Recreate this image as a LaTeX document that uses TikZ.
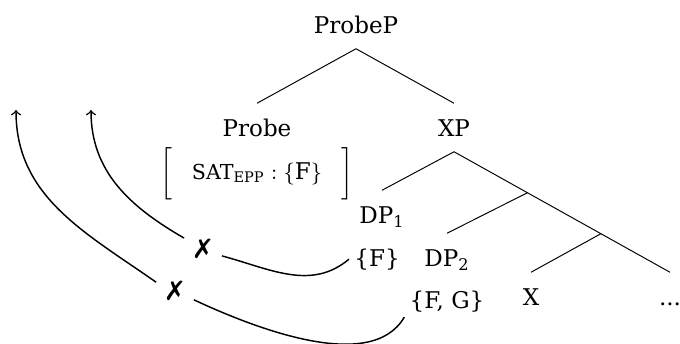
\documentclass[tikz,border=0pt]{standalone}
\usepackage{amsmath}
\usepackage{fontspec}
\setmainfont{DejaVu Serif}
\newfontfamily\marksfont{DejaVu Sans}
\usetikzlibrary{arrows}
\usetikzlibrary{calc}
\newcommand{\smcap}[1]{{\fontsize{8.5}{9}\selectfont #1}}
\newcommand{\subcap}[1]{{\fontsize{6}{6}\selectfont #1}}
\tikzset{
  tree_node/.style = {anchor=base, inner sep=5pt, text height=1.6ex,
    text depth=.25ex},% categories of the tree
  feat_node/.style = {anchor=base, inner sep=2pt},% feature bundles
  cross_node/.style = {inner sep=3pt, font=\marksfont\fontsize{11}{11}\selectfont},% failed step
  tree_line/.style = {line width=0.4pt},
  move_line/.style = {line width=0.6pt}% upward paths
}

\begin{document}
\begin{tikzpicture}[x=0.0145cm, y=-0.0145cm, font=\fontsize{9.5}{11}\selectfont]
  \useasboundingbox (0,0) rectangle (680,343);
  % the tree
  \node [tree_node] (probep) at (356,33) {ProbeP};
  \node [tree_node] (probe) at (257,136) {Probe};
  \node [tree_node] (xp) at (454,136) {XP};
  \node [tree_node] (dpone) at (382,223) {DP$_{\text{1}}$};
  \node [tree_node] (dptwo) at (447,266) {DP$_{\text{2}}$};
  \node [tree_node] (x) at (531,305) {X};
  \node [tree_node] (dots) at (670,305) {...};
  \coordinate (split_a) at ($(xp.south)!0.34!(dots.north)$);
  \coordinate (split_b) at ($(xp.south)!0.68!(dots.north)$);
  \draw [tree_line] (probep.south) -- (probe.north);
  \draw [tree_line] (probep.south) -- (xp.north);
  \draw [tree_line] (xp.south) -- (dpone.north);
  \draw [tree_line] (xp.south) -- (dots.north);
  \draw [tree_line] (split_a) -- (dptwo.north);
  \draw [tree_line] (split_b) -- (x.north);
  % features
  \node [feat_node] (sat) at (257,179)
    {$\biggl[\hspace{8pt}\text{\smcap{SAT}}_{\text{\subcap{EPP}}} : \{\text{F}\}\hspace{8pt}\biggr]$};
  \node [feat_node] (fone) at (377,266) {\{F\}};
  \node [feat_node] (ffg) at (447,308) {\{F, G\}};
  % movement
  \node [cross_node] (crossone) at (203,249) {✗};
  \node [cross_node] (crosstwo) at (175,291) {✗};
  \coordinate (tipone) at (91,110);
  \coordinate (tiptwo) at (16,110);
  \draw [move_line] (fone.west) to [out=220, in=-15] (crossone.-20);
  \draw [move_line, ->] (crossone.150) to [out=150, in=-90] (tipone);
  \draw [move_line] (ffg.south west) to [out=240, in=-25, looseness=0.8] (crosstwo.-25);
  \draw [move_line, ->] (crosstwo.155) to [out=145, in=-90] (tiptwo);
\end{tikzpicture}
\end{document}
